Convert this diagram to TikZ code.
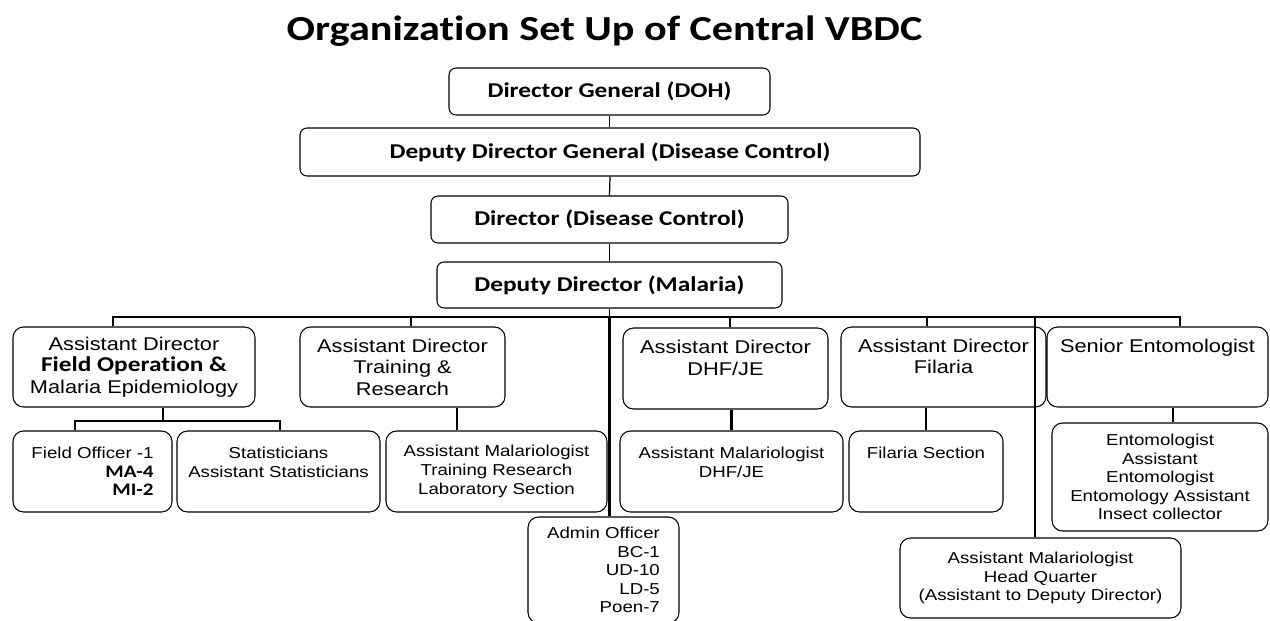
\documentclass[tikz,border=0pt]{standalone}
\usepackage{fontspec}
\setmainfont{Liberation Sans}[FakeStretch=1.18]
\newfontfamily\calfont{Carlito}[FakeStretch=1.2, Ligatures=CommonOff]
\usepackage{tikz}
\usetikzlibrary{calc}
\begin{document}
\begin{tikzpicture}[
box/.style={draw, line width=0.6pt, rounded corners=6pt, align=center, inner sep=1pt},
topbox/.style={box, rounded corners=4pt, minimum height=0.94cm, font=\calfont\bfseries\fontsize{12}{14}\selectfont},
adbox/.style={box, minimum height=1.6cm, font=\fontsize{10.5}{12.2}\selectfont},
subbox/.style={box, minimum height=1.62cm, font=\fontsize{9}{10.6}\selectfont},
chain/.style={line width=0.7pt},
link/.style={line width=1.3pt}]
\useasboundingbox (0,0) rectangle (25.4,-12.4);
\node[font=\calfont\bfseries\fontsize{20}{23}\selectfont] (title) at (12.09,-0.62) {Organization Set Up of Central VBDC};
\node[topbox, minimum width=6.42cm] (dg) at (12.19,-1.83) {Director General (DOH)};
\node[topbox, minimum width=12.4cm, minimum height=0.96cm] (ddg) at (12.2,-3.04) {Deputy Director General (Disease Control)};
\node[topbox, minimum width=7.14cm] (dir) at (12.19,-4.39) {Director (Disease Control)};
\node[topbox, minimum width=6.9cm, minimum height=0.92cm] (dd) at (12.19,-5.7) {Deputy Director (Malaria)};
\node[adbox, minimum width=4.84cm] (adfield) at (2.68,-7.34) {Assistant Director\\{\calfont\bfseries\fontsize{12}{12.2}\selectfont Field Operation \&}\\Malaria Epidemiology};
\node[adbox, minimum width=4.1cm] (adtrain) at (8.05,-7.34) {Assistant Director\\Training \&\\Research};
\node[adbox, minimum width=4.1cm, minimum height=1.62cm] (addhf) at (14.51,-7.37) {Assistant Director\\DHF/JE\\\mbox{}};
\node[adbox, minimum width=4.1cm] (adfil) at (18.87,-7.34) {Assistant Director\\Filaria\\\mbox{}};
\node[adbox, minimum width=4.42cm] (senento) at (23.15,-7.34) {Senior Entomologist\\\mbox{}\\\mbox{}};
\node[subbox, minimum width=3.18cm, align=right] (fieldoff) at (1.85,-9.43) {Field Officer -1\\{\calfont\bfseries\fontsize{10}{10.6}\selectfont MA-4}\\{\calfont\bfseries\fontsize{10}{10.6}\selectfont MI-2}};
\node[subbox, minimum width=4.06cm] (stats) at (5.57,-9.43) {Statisticians\\Assistant Statisticians\\\mbox{}};
\node[subbox, minimum width=4.42cm] (amtrain) at (9.93,-9.43) {Assistant Malariologist\\Training Research\\Laboratory Section};
\node[subbox, minimum width=4.46cm] (amdhf) at (14.63,-9.43) {Assistant Malariologist\\DHF/JE\\\mbox{}};
\node[subbox, minimum width=3.08cm] (filsec) at (18.52,-9.43) {Filaria Section\\\mbox{}\\\mbox{}};
\node[subbox, minimum width=4.32cm, minimum height=2.16cm] (ento) at (23.2,-9.54) {Entomologist\\Assistant\\Entomologist\\Entomology Assistant\\Insect collector};
\node[subbox, minimum width=3.02cm, minimum height=2.12cm, align=right] (admin) at (12.07,-11.4) {Admin Officer\\BC-1\\UD-10\\LD-5\\Poen-7};
\node[subbox, minimum width=5.62cm, minimum height=1.6cm] (amhq) at (20.81,-11.56) {Assistant Malariologist\\Head Quarter\\(Assistant to Deputy Director)};
\coordinate (busl) at (2.26,-6.34);
\coordinate (busr) at (23.6,-6.34);
\coordinate (subl) at (1.5,-8.42);
\coordinate (subr) at (5.6,-8.42);
\draw[chain] (dg.south) -- (dg.south |- ddg.north);
\draw[chain] (ddg.south) -- (dg.south |- dir.north);
\draw[chain] (dir.south) -- (dir.south |- dd.north);
\draw[chain] (dd.south) -- (dd.south |- busl);
\draw[link] (adfield.north -| busl) -- (busl) -- (busr) -- (senento.north -| busr);
\draw[link] ([xshift=0.17cm]adtrain.north) -- ([xshift=0.17cm]adtrain.north |- busl);
\draw[link] ([xshift=0.09cm]addhf.north) -- ([xshift=0.09cm]addhf.north |- busl);
\draw[link] ([xshift=-0.33cm]adfil.north) -- ([xshift=-0.33cm]adfil.north |- busl);
\draw[link] (dd.south |- busl) -- (dd.south |- admin.north);
\draw[link] ([xshift=-0.11cm]amhq.north |- busl) -- ([xshift=-0.11cm]amhq.north);
\draw[link] ([xshift=0.58cm]adfield.south) -- ([xshift=0.58cm]adfield.south |- subl);
\draw[link] (fieldoff.north -| subl) -- (subl) -- (subr) -- (stats.north -| subr);
\draw[link] ([xshift=-0.79cm]amtrain.north |- adtrain.south) -- ([xshift=-0.79cm]amtrain.north);
\draw[link] (amdhf.north |- addhf.south) -- (amdhf.north);
\draw[link] (filsec.north |- adfil.south) -- (filsec.north);
\draw[link] ([xshift=0.26cm]ento.north |- senento.south) -- ([xshift=0.26cm]ento.north);
\end{tikzpicture}
\end{document}
